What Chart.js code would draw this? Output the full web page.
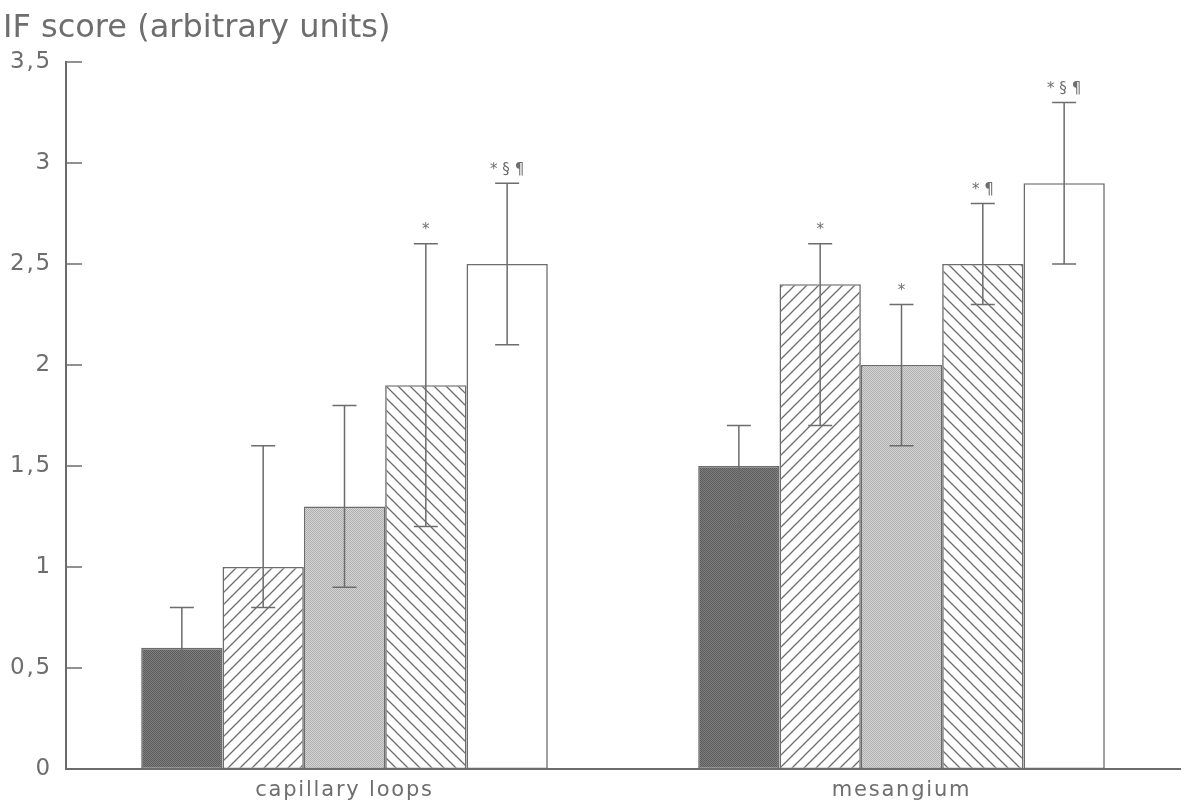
<!DOCTYPE html>
<html>
<head>
<meta charset="utf-8">
<script src="https://cdn.jsdelivr.net/npm/chart.js@4"></script>
<style>
  body { margin: 0; background: #fff; }
  #box { width: 1184px; height: 810px; }
</style>
</head>
<body>
<div id="box"><canvas id="mycanvas" width="1184" height="810"></canvas></div>
<script>
// data
var categories = ["capillary loops", "mesangium"];
var yTicks = [0, 0.5, 1, 1.5, 2, 2.5, 3, 3.5];

var group_1 = [0.6, 1.5];
var group_2 = [1.0, 2.4];
var group_3 = [1.3, 2.0];
var group_4 = [1.9, 2.5];
var group_5 = [2.5, 2.9];

var low_1 = [0.4, 1.2],  high_1 = [0.8, 1.7];
var low_2 = [0.8, 1.7],  high_2 = [1.6, 2.6];
var low_3 = [0.9, 1.6],  high_3 = [1.8, 2.3];
var low_4 = [1.2, 2.3],  high_4 = [2.6, 2.8];
var low_5 = [2.1, 2.5],  high_5 = [2.9, 3.3];

var marks_1 = ["", ""];
var marks_2 = ["", "*"];
var marks_3 = ["", "*"];
var marks_4 = ["*", "* \u00b6"];
var marks_5 = ["* \u00a7 \u00b6", "* \u00a7 \u00b6"];

var ink = "#6c6c6c";
var textInk = "#6e6e6e";

// fill patterns
function dotPattern(a, b) {
  var c = document.createElement("canvas");
  c.width = 2; c.height = 2;
  var g = c.getContext("2d");
  g.fillStyle = a; g.fillRect(0, 0, 2, 2);
  g.fillStyle = b; g.fillRect(0, 0, 1, 1); g.fillRect(1, 1, 1, 1);
  return g.createPattern(c, "repeat");
}
function hatchPattern(forward) {
  var s = 12;
  var c = document.createElement("canvas");
  c.width = s; c.height = s;
  var g = c.getContext("2d");
  g.fillStyle = "#fff"; g.fillRect(0, 0, s, s);
  g.strokeStyle = ink; g.lineWidth = 1.3;
  g.beginPath();
  if (forward) {
    g.moveTo(-2, s + 2); g.lineTo(s + 2, -2);
    g.moveTo(-2, 2); g.lineTo(2, -2);
    g.moveTo(s - 2, s + 2); g.lineTo(s + 2, s - 2);
  } else {
    g.moveTo(-2, -2); g.lineTo(s + 2, s + 2);
    g.moveTo(s - 2, -2); g.lineTo(s + 2, 2);
    g.moveTo(-2, s - 2); g.lineTo(2, s + 2);
  }
  g.stroke();
  return g.createPattern(c, "repeat");
}

function makeSet(label, values, low, high, marks, fill) {
  return {
    label: label,
    data: values,
    low: low,
    high: high,
    marks: marks,
    backgroundColor: fill,
    borderColor: ink,
    borderWidth: 1.6,
    borderSkipped: false,
    categoryPercentage: 0.73,
    barPercentage: 1.0
  };
}

var chartdata = {
  labels: categories,
  datasets: [
    makeSet("1", group_1, low_1, high_1, marks_1, dotPattern("#7e7e7e", "#5c5c5c")),
    makeSet("2", group_2, low_2, high_2, marks_2, hatchPattern(true)),
    makeSet("3", group_3, low_3, high_3, marks_3, dotPattern("#d4d4d4", "#b0b0b0")),
    makeSet("4", group_4, low_4, high_4, marks_4, hatchPattern(false)),
    makeSet("5", group_5, low_5, high_5, marks_5, "#ffffff")
  ]
};

var spacing = {
  id: "spacing",
  beforeUpdate: function(chart) { chart.ctx.letterSpacing = "1.8px"; },
  beforeDraw: function(chart) { chart.ctx.letterSpacing = "1.8px"; }
};

var extras = {
  id: "extras",
  afterDatasetsDraw: function(chart) {
    var ctx = chart.ctx;
    var y = chart.scales.y;
    ctx.save();
    ctx.letterSpacing = "0px";
    ctx.strokeStyle = ink;
    ctx.lineWidth = 1.5;
    ctx.fillStyle = textInk;
    ctx.font = "15px 'DejaVu Sans'";
    ctx.textAlign = "center";
    ctx.textBaseline = "bottom";
    chart.data.datasets.forEach(function(ds, i) {
      chart.getDatasetMeta(i).data.forEach(function(bar, j) {
        var yl = y.getPixelForValue(ds.low[j]);
        var yh = y.getPixelForValue(ds.high[j]);
        ctx.beginPath();
        ctx.moveTo(bar.x, yl); ctx.lineTo(bar.x, yh);
        ctx.moveTo(bar.x - 12, yl); ctx.lineTo(bar.x + 12, yl);
        ctx.moveTo(bar.x - 12, yh); ctx.lineTo(bar.x + 12, yh);
        ctx.stroke();
        if (ds.marks[j]) ctx.fillText(ds.marks[j], bar.x, yh - 6);
      });
    });
    // tick marks pointing into the plot
    var x0 = chart.chartArea.left;
    yTicks.forEach(function(v) {
      if (v === 0) return;
      var py = y.getPixelForValue(v);
      ctx.beginPath();
      ctx.moveTo(x0, py); ctx.lineTo(x0 + 16, py);
      ctx.stroke();
    });
    ctx.restore();
  },
  afterDraw: function(chart) {
    var ctx = chart.ctx;
    ctx.save();
    ctx.letterSpacing = "0px";
    ctx.fillStyle = textInk;
    ctx.font = "32px 'DejaVu Sans'";
    ctx.textAlign = "left";
    ctx.textBaseline = "alphabetic";
    ctx.fillText("IF score (arbitrary units)", 3, 37);
    ctx.restore();
  }
};

var ctx = document.getElementById("mycanvas");

var BarGraph = new Chart(ctx, {
  type: "bar",
  data: chartdata,
  plugins: [spacing, extras],
  options: {
    responsive: false,
    animation: false,
    layout: { padding: { top: 62, right: 4, left: 0, bottom: 0 } },
    plugins: {
      legend: { display: false },
      tooltip: { enabled: false },
      title: { display: false }
    },
    scales: {
      x: {
        grid: { display: false, drawTicks: false },
        border: { display: true, color: ink, width: 2 },
        ticks: {
          color: textInk,
          font: { family: "DejaVu Sans", size: 21 },
          padding: 9
        },
        afterFit: function(scale) { scale.height = 41; }
      },
      y: {
        min: 0,
        max: 3.5,
        afterBuildTicks: function(scale) {
          scale.ticks = yTicks.map(function(v) { return { value: v }; });
        },
        grid: { display: false, drawTicks: false },
        border: { display: true, color: ink, width: 2 },
        ticks: {
          color: textInk,
          font: { family: "DejaVu Sans", size: 23 },
          padding: 14,
          callback: function(v) { return String(v).replace(".", ","); }
        },
        afterFit: function(scale) { scale.width = 66; }
      }
    }
  }
});
</script>
</body>
</html>
